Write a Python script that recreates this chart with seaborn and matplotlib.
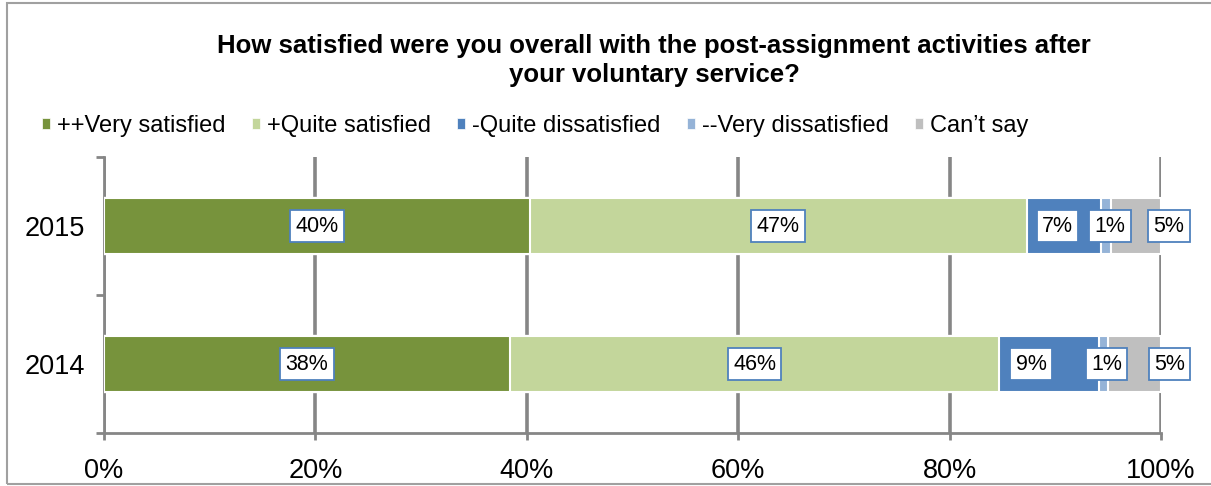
import numpy as np
import pandas as pd
import matplotlib
matplotlib.use("Agg")
import matplotlib.pyplot as plt
from matplotlib.patches import Patch, Rectangle
import seaborn as sns

# Survey answers, share of respondents (%)
years = ["2015", "2014"]
responses = ["++Very satisfied", "+Quite satisfied", "-Quite dissatisfied",
             "--Very dissatisfied", "Can\u2019t say"]
very_satisfied = [40.3, 38.4]
quite_satisfied = [47.0, 46.3]
quite_dissatisfied = [7.0, 9.4]
very_dissatisfied = [1.0, 0.9]
cant_say = [4.7, 5.0]

colors = ["#77933C", "#C3D69B", "#4F81BD", "#95B3D7", "#BFBFBF"]
grid_grey = "#868686"
# horizontal nudges (in % units) applied to crowded value labels
label_nudge = {
    ("2015", 2): -0.6, ("2015", 3): 0.4, ("2015", 4): 3.1,
    ("2014", 2): -1.7, ("2014", 3): 0.3, ("2014", 4): 3.3,
}

sns.set_theme(style="white")
plt.rcParams["font.family"] = ["Liberation Sans", "DejaVu Sans"]
plt.rcParams["text.color"] = "black"
plt.rcParams["xtick.labelcolor"] = "black"
plt.rcParams["ytick.labelcolor"] = "black"

series = [very_satisfied, quite_satisfied, quite_dissatisfied,
          very_dissatisfied, cant_say]
df = pd.DataFrame({"year": years})
for name, vals in zip(responses, series):
    df[name] = vals
cum = df[responses].cumsum(axis=1)

fig = plt.figure(figsize=(12.11, 4.86), dpi=100)
ax = fig.add_axes([104 / 1211, 1 - 433 / 486, (1161 - 104) / 1211, (433 - 157) / 486])

# stacked bars: draw cumulative totals from the outermost segment inward
for name, col in reversed(list(zip(responses, colors))):
    tmp = pd.DataFrame({"year": years, "value": cum[name].values})
    sns.barplot(data=tmp, x="value", y="year", order=years, color=col,
                width=0.4, edgecolor="white", linewidth=1.5, ax=ax,
                saturation=1, zorder=3)

# value labels
for i, yr in enumerate(years):
    left = 0.0
    for j, name in enumerate(responses):
        v = df.loc[i, name]
        xc = left + v / 2 + label_nudge.get((yr, j), 0.0)
        ax.text(xc, i, f"{v:.0f}%", ha="center", va="center", fontsize=15.5,
                color="black", zorder=5,
                bbox=dict(boxstyle="square,pad=0.25", fc="white",
                          ec="#4F81BD", lw=1.3))
        left += v

ax.set_xlim(0, 100)
ax.set_ylim(1.5, -0.5)
ax.set_xticks(np.arange(0, 101, 20))
ax.set_xticklabels([f"{t}%" for t in range(0, 101, 20)])
ax.set_yticks([-0.5, 0.5, 1.5])
ax.set_yticklabels([])
ax.set_yticks([0, 1], minor=True)
ax.set_yticklabels(years, minor=True)
ax.tick_params(axis="y", which="major", length=6, width=2, color=grid_grey, direction="out", left=True)
ax.tick_params(axis="y", which="minor", length=0, pad=14, labelsize=19.5)
ax.tick_params(axis="x", which="major", length=5, width=2, color=grid_grey, direction="out",
               bottom=True, pad=13, labelsize=19.5)
ax.set_xlabel("")
ax.set_ylabel("")
ax.xaxis.grid(True, color=grid_grey, lw=2.6, zorder=0)
ax.yaxis.grid(False)
ax.set_axisbelow(True)
for side in ["top", "right"]:
    ax.spines[side].set_visible(False)
for side in ["left", "bottom"]:
    ax.spines[side].set_color(grid_grey)
    ax.spines[side].set_linewidth(2)

# title
fig.text(654 / 1211, 1 - 60.5 / 486,
         "How satisfied were you overall with the post-assignment activities after\nyour voluntary service?",
         ha="center", va="center", fontsize=18.5, fontweight="bold", linespacing=1.24,
         color="black")

# legend
handles = [Patch(facecolor=c, edgecolor="white", lw=0.5) for c in colors]
fig.legend(handles, responses, loc="center left", bbox_to_anchor=(42 / 1211, 1 - 126 / 486),
           ncol=5, frameon=False, fontsize=17.0, handlelength=0.35, handleheight=0.35,
           handletextpad=0.3, columnspacing=1.1, borderaxespad=0, borderpad=0)

# chart frame
fig.patches.append(Rectangle((7 / 1211, 2 / 486), 1.2, 1 - 5 / 486, transform=fig.transFigure,
                             fill=False, ec="#A0A0A0", lw=1.5))

fig.savefig("out.png", dpi=100)
